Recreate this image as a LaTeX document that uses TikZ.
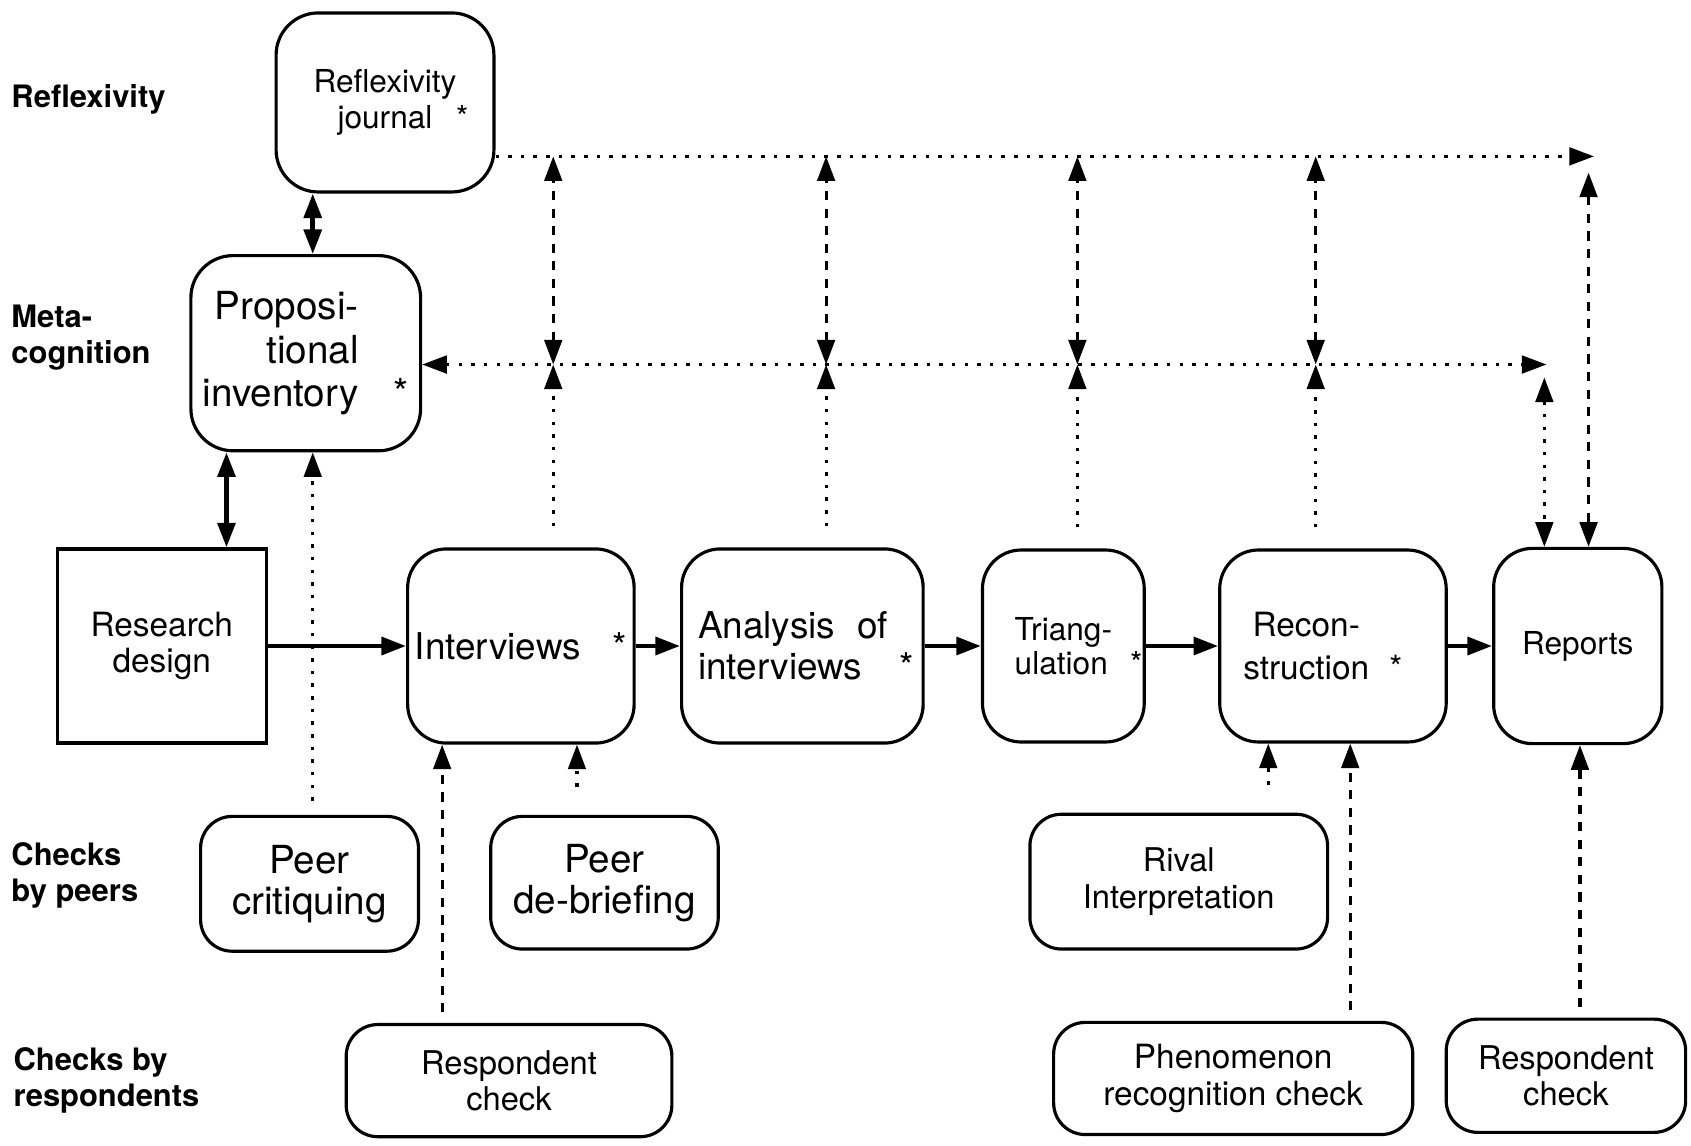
\documentclass[tikz,border=0pt]{standalone}
\usepackage{fontspec}
\setmainfont{TeX Gyre Heros}
\usetikzlibrary{arrows.meta}
\newlength\pxu
\setlength\pxu{0.010784cm}
\newcommand{\ster}[2]{\makebox[#1][l]{\hspace{#2}*}}
\newcommand{\gapbox}[1]{\makebox[#1]{}}
\newcommand{\fs}[2]{\fontsize{#1}{#2}\selectfont}
\tikzset{
  >={Triangle[length=7pt,width=5pt]},
  rbox/.style={draw,line width=0.9pt,rounded corners=11pt,align=center,inner sep=0pt},
  sbox/.style={draw,line width=0.9pt,rounded corners=9pt,align=center,inner sep=0pt},
  rowlbl/.style={anchor=west,align=left,inner sep=0pt,font=\bfseries\fs{8.8}{10.2}},
  flow/.style={->,line width=1.3pt},
  dbl/.style={<->,line width=1.3pt},
  dotln/.style={line width=0.9pt,dash pattern=on 1pt off 2.6pt},
  dashln/.style={line width=0.9pt,dash pattern=on 2.6pt off 2.4pt}
}
\begin{document}
\begin{tikzpicture}[x=0.010784cm,y=-0.010784cm]
\useasboundingbox (0,0) rectangle (1568,1062);

\node[rowlbl] (lrefl) at (10,92) {Reflexivity};
\node[rowlbl] (lmeta) at (10,313) {Meta-\\cognition};
\node[rowlbl] (lpeer) at (10,812) {Checks\\by peers};
\node[rowlbl] (lresp) at (12,1002) {Checks by\\respondents};

\node[rbox,rounded corners=12pt,minimum width=202\pxu,minimum height=166\pxu,font=\fs{9}{10.4}] (refl) at (357,95) {Reflexivity\\journal\ster{0pt}{0.75em}};
\node[rbox,rounded corners=12pt,minimum width=213\pxu,minimum height=181\pxu,align=right,font=\fs{11}{12.4}] (prop) at (283.5,327.5) {Proposi-\gapbox{1.3em}\\tional\gapbox{1.3em}\\inventory\ster{1.3em}{0.9em}};
\node[draw,line width=0.9pt,minimum width=194\pxu,minimum height=180\pxu,align=center,inner sep=0pt,font=\fs{9.5}{10.1}] (rd) at (150,599) {Research\\design};

\node[rbox,minimum width=210\pxu,minimum height=180\pxu,font=\fs{10.5}{11.7}] (int) at (483,599) {Interviews\ster{1.25em}{0.85em}};
\node[rbox,minimum width=224\pxu,minimum height=180\pxu,align=left,font=\fs{10.5}{11.7}] (ana) at (744,599) {Analysis\hspace{0.6em}of\\interviews\ster{1.2em}{1em}};
\node[rbox,minimum width=150\pxu,minimum height=178\pxu,align=left,font=\fs{9}{9.8}] (tri) at (986,599) {Triang-\\ulation\ster{0pt}{0.7em}};
\node[rbox,minimum width=210\pxu,minimum height=178\pxu,font=\fs{9.5}{12.3}] (rec) at (1236,599) {Recon-\gapbox{1.6em}\\struction\ster{1.6em}{0.6em}};
\node[rbox,minimum width=156\pxu,minimum height=181\pxu,font=\fs{9}{10}] (rep) at (1463,599) {Reports};

\node[sbox,minimum width=202\pxu,minimum height=125\pxu,font=\fs{11}{11.7}] (pc) at (287,819.5) {Peer\\critiquing};
\node[sbox,minimum width=211\pxu,minimum height=123\pxu,font=\fs{11}{11.7}] (pdb) at (560.5,818.5) {Peer\\de-briefing};
\node[sbox,minimum width=276\pxu,minimum height=125\pxu,font=\fs{9.3}{10.7}] (ri) at (1093,817.5) {Rival\\Interpretation};
\node[sbox,minimum width=302\pxu,minimum height=104\pxu,font=\fs{9.3}{10.4}] (rc1) at (472,1002) {Respondent\\check};
\node[sbox,minimum width=333\pxu,minimum height=104\pxu,font=\fs{9.5}{10.4}] (prc) at (1143.5,1000) {Phenomenon\\recognition check};
\node[sbox,minimum width=222\pxu,minimum height=105\pxu,font=\fs{9.3}{10.4}] (rc2) at (1452,997.5) {Respondent\\check};

\coordinate (t1) at (513,145);
\coordinate (t2) at (766,145);
\coordinate (t3) at (999,145);
\coordinate (t4) at (1220,145);
\coordinate (m1) at (513,338);
\coordinate (m2) at (766,338);
\coordinate (m3) at (999,338);
\coordinate (m4) at (1220,338);
\coordinate (tend) at (1478,145);
\coordinate (mend) at (1434,338);
\coordinate (t5) at (1473,160);
\coordinate (m5) at (1432,350);
\coordinate (xj) at (290,0);
\coordinate (xd) at (210,0);
\coordinate (xrc1) at (410,0);
\coordinate (xpdb) at (535,0);
\coordinate (xri) at (1176,0);
\coordinate (xprc) at (1252,0);
\coordinate (xrc2) at (1465,0);

\draw[dbl] (refl.south -| xj) -- (prop.north -| xj);
\draw[dbl] (prop.south -| xd) -- (rd.north -| xd);
\draw[flow] (rd) -- (int);
\draw[flow] (int) -- (ana);
\draw[flow] (ana) -- (tri);
\draw[flow] (tri) -- (rec);
\draw[flow] (rec) -- (rep);

\draw[dotln,->] (refl.east |- t1) -- (tend);
\draw[dotln,<->] (prop.east |- m1) -- (mend);
\draw[dashln,<->] (m1) -- (t1);
\draw[dashln,<->] (m2) -- (t2);
\draw[dashln,<->] (m3) -- (t3);
\draw[dashln,<->] (m4) -- (t4);
\draw[dotln,->,shorten <=6pt] (int.north -| m1) -- (m1);
\draw[dotln,->,shorten <=6pt] (ana.north -| m2) -- (m2);
\draw[dotln,->,shorten <=6pt] (tri.north -| m3) -- (m3);
\draw[dotln,->,shorten <=6pt] (rec.north -| m4) -- (m4);
\draw[dashln,<->] (t5) -- (rep.north -| t5);
\draw[dotln,<->] (m5) -- (rep.north -| m5);

\draw[dotln,->,shorten <=4pt] (pc.north -| xj) -- (prop.south -| xj);
\draw[dashln,->,shorten <=3pt] (rc1.north -| xrc1) -- (int.south -| xrc1);
\draw[dotln,->,shorten <=8pt] (pdb.north -| xpdb) -- (int.south -| xpdb);
\draw[dotln,->,shorten <=8pt] (ri.north -| xri) -- (rec.south -| xri);
\draw[dashln,->,shorten <=3pt] (prc.north -| xprc) -- (rec.south -| xprc);
\draw[dashln,->,shorten <=3pt] (rc2.north -| xrc2) -- (rep.south -| xrc2);
\end{tikzpicture}
\end{document}
